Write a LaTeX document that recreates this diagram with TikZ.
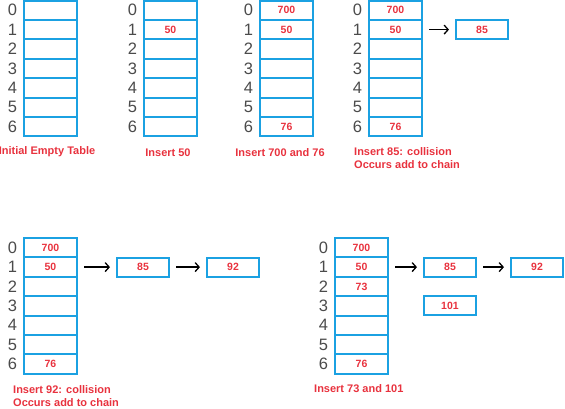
\documentclass[tikz,border=0pt]{standalone}
\usepackage{fontspec}
\setmainfont{Liberation Sans}
\usepackage{xcolor}
\usetikzlibrary{positioning}
\usetikzlibrary{arrows.meta}

\definecolor{cellblue}{RGB}{27,161,226}
\definecolor{keyred}{RGB}{232,50,62}
\definecolor{idxgray}{RGB}{75,75,75}

\begin{document}
\begin{tikzpicture}[x=1pt, y=-1pt,
	cell/.style={draw=cellblue, line width=2pt, minimum width=53pt, minimum height=19.4pt, inner sep=0pt},
	listbox/.style={cell, minimum width=52pt, minimum height=19pt, text=keyred, font=\fontsize{10.5}{12}\selectfont\bfseries},
	val/.style={text=keyred, inner sep=0pt, font=\fontsize{10.5}{12}\selectfont\bfseries},
	idx/.style={text=idxgray, inner sep=0pt, font=\fontsize{16.5}{18}\selectfont},
	caption/.style={text=keyred, inner sep=0pt, font=\fontsize{11}{12.5}\selectfont\bfseries},
	link/.style={line width=1.3pt, -{Straight Barb[length=4pt, width=9pt]}, shorten <=6pt, shorten >=6pt}]
	\useasboundingbox (0,0) rectangle (565,408);
	% Draw tables
	\foreach \tab/\x/\y in {a/24/0.5, b/144/0.5, c/260/0.5, d/369/0.5, e/24/238, f/335/238}{
		\foreach \i in {0,...,6}{
			\node[cell] (\tab\i) at (\x+26.5, \y+9.7+\i*19.4) {};
			\node[idx] (\tab l\i) at (\x-11.5, \y+9.7+\i*19.4) {\i};
		}
	}
	% Keys in the tables
	\foreach \c/\v in {b1/50, c0/700, c1/50, c6/76, d0/700, d1/50, d6/76,
		e0/700, e1/50, e6/76, f0/700, f1/50, f2/73, f6/76}
		\node[val] (v\c) at (\c) {\v};
	% Draw chains
	\node[listbox, right=32pt of d1] (d85) {85};
	\draw[link] (d1) -- (d85);
	\node[listbox, right=38pt of e1] (e85) {85};
	\node[listbox, right=36pt of e85] (e92) {92};
	\draw[link] (e1) -- (e85);
	\draw[link] (e85) -- (e92);
	\node[listbox, right=34pt of f1] (f85) {85};
	\node[listbox, right=33pt of f85] (f92) {92};
	\node[listbox] (f101) at (f85 |- f3) {101};
	\draw[link] (f1) -- (f85);
	\draw[link] (f85) -- (f92);
	% Captions
	\node[caption] (capa) at (47,152) {Initial Empty Table};
	\node[caption] (capb) at (168,153) {Insert 50};
	\node[caption] (capc) at (280,153) {Insert 700 and 76};
	\node[caption, anchor=west, align=left] (capd) at (354,158) {Insert 85: collision\\Occurs add to chain};
	\node[caption, anchor=west, align=left] (cape) at (13,396) {Insert 92: collision\\Occurs add to chain};
	\node[caption, anchor=west] (capf) at (314,389) {Insert 73 and 101};
\end{tikzpicture}
\end{document}
